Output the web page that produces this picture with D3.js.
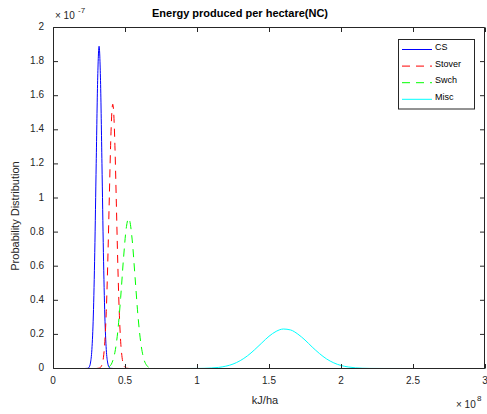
<!DOCTYPE html>
<html lang="en">
<head>
  <meta charset="UTF-8">
  <title>Energy produced per hectare(NC)</title>
  <script src="https://d3js.org/d3.v7.min.js"></script>
  <style>
    html, body { margin: 0; padding: 0; background: #fff; }
    svg { display: block; font-family: "Liberation Sans", Arial, sans-serif; }
  </style>
</head>
<body>
<div id="chart"></div>
<script>
  // Data (x in units of 1e8 kJ/ha, y in units of 1e-7)
  const seriesNames = ["CS", "Stover", "Swch", "Misc"];
  const xTicks = [0, 0.5, 1, 1.5, 2, 2.5, 3];
  const yTicks = [0, 0.2, 0.4, 0.6, 0.8, 1, 1.2, 1.4, 1.6, 1.8, 2];
  const yTickLabels = ["0", "0.2", "0.4", "0.6", "0.8", "1", "1.2", "1.4", "1.6", "1.8", "2"];

  const csX = [0.1, 0.22, 0.24, 0.25, 0.26, 0.27, 0.28, 0.29, 0.30, 0.31, 0.32, 0.33, 0.34, 0.35, 0.36, 0.37, 0.38, 0.39, 0.40, 0.42, 2.0];
  const csY = [0, 0, 0.001, 0.007, 0.032, 0.111, 0.308, 0.681, 1.201, 1.688, 1.89, 1.688, 1.201, 0.681, 0.308, 0.111, 0.032, 0.007, 0.001, 0, 0];

  const stoverX = [0.1, 0.3, 0.32, 0.33, 0.34, 0.35, 0.36, 0.37, 0.38, 0.39, 0.40, 0.41, 0.415, 0.42, 0.43, 0.44, 0.45, 0.46, 0.47, 0.48, 0.49, 0.50, 0.51, 0.53, 2.0];
  const stoverY = [0, 0, 0.002, 0.007, 0.022, 0.063, 0.157, 0.335, 0.613, 0.965, 1.307, 1.521, 1.55, 1.521, 1.307, 0.965, 0.613, 0.335, 0.157, 0.063, 0.022, 0.007, 0.002, 0, 0];

  const swchX = [0.1, 0.35, 0.37, 0.39, 0.41, 0.43, 0.45, 0.47, 0.49, 0.51, 0.525, 0.53, 0.55, 0.57, 0.59, 0.61, 0.63, 0.65, 0.67, 0.69, 0.71, 2.0];
  const swchY = [0, 0, 0.002, 0.010, 0.034, 0.095, 0.219, 0.417, 0.650, 0.832, 0.88, 0.875, 0.754, 0.534, 0.310, 0.148, 0.058, 0.019, 0.005, 0.001, 0, 0];

  const miscX = [0.1, 0.9, 1.0, 1.1, 1.15, 1.2, 1.25, 1.3, 1.35, 1.4, 1.45, 1.5, 1.55, 1.6, 1.65, 1.7, 1.75, 1.8, 1.85, 1.9, 1.95, 2.0, 2.05, 2.1, 2.2, 2.3, 2.5, 3.0];
  const miscY = [0, 0, 0.0004, 0.003, 0.0065, 0.0136, 0.026, 0.046, 0.074, 0.110, 0.150, 0.189, 0.218, 0.2316, 0.226, 0.202, 0.167, 0.126, 0.088, 0.056, 0.033, 0.0177, 0.009, 0.004, 0.0006, 0.0001, 0, 0];

  const seriesX = [csX, stoverX, swchX, miscX];
  const seriesY = [csY, stoverY, swchY, miscY];
  const colors = ["#0000ff", "#ff0000", "#00ff00", "#00ffff"];
  const dashes = [null, "8,6", "8,6", null];

  const width = 487, height = 414;
  const ink = "#262626";

  const svg = d3.select("#chart").append("svg")
    .attr("width", width)
    .attr("height", height);

  const x = d3.scaleLinear().domain([0, 3]).range([53, 485]);
  const y = d3.scaleLinear().domain([0, 2]).range([368.5, 27.5]);

  // curves
  const line = d3.line()
    .x(d => x(d[0]))
    .y(d => y(d[1]))
    .curve(d3.curveMonotoneX);

  seriesNames.forEach((name, i) => {
    const pts = seriesX[i].map((v, j) => [v, seriesY[i][j]]);
    svg.append("path")
      .datum(pts)
      .attr("fill", "none")
      .attr("stroke", colors[i])
      .attr("stroke-width", 1)
      .attr("stroke-dasharray", dashes[i])
      .attr("d", line);
  });

  // axes box
  const x0 = x.range()[0] + 0.5, x1 = x.range()[1] - 0.5;
  const yb = y.range()[0], yt = y.range()[1];
  svg.append("path")
    .attr("d", `M${x0},${yt}V${yb}H${x1}V${yt}Z`)
    .attr("fill", "none")
    .attr("stroke", ink)
    .attr("stroke-width", 1);

  const tickLen = 4.5;
  const ticks = svg.append("g").attr("stroke", ink).attr("stroke-width", 1);
  xTicks.forEach(t => {
    const px = Math.round(x(t)) + 0.5;
    ticks.append("line").attr("x1", px).attr("x2", px).attr("y1", yb).attr("y2", yb - tickLen);
    ticks.append("line").attr("x1", px).attr("x2", px).attr("y1", yt).attr("y2", yt + tickLen);
  });
  yTicks.forEach(t => {
    const py = y(t);
    ticks.append("line").attr("x1", x0).attr("x2", x0 + tickLen).attr("y1", py).attr("y2", py);
    ticks.append("line").attr("x1", x1).attr("x2", x1 - tickLen).attr("y1", py).attr("y2", py);
  });

  // tick labels
  svg.append("g").selectAll("text")
    .data(xTicks)
    .join("text")
    .attr("x", d => x(d))
    .attr("y", 384)
    .attr("text-anchor", "middle")
    .attr("font-size", 10)
    .attr("fill", ink)
    .text(d => d);

  svg.append("g").selectAll("text")
    .data(yTicks)
    .join("text")
    .attr("x", 44)
    .attr("y", d => y(d) + 2.5)
    .attr("text-anchor", "end")
    .attr("font-size", 10)
    .attr("fill", ink)
    .text((d, i) => yTickLabels[i]);

  // exponent labels
  const ey = svg.append("text").attr("fill", ink).attr("font-size", 10).attr("x", 55).attr("y", 19);
  ey.append("tspan").text("\u00d7 10");
  svg.append("text").attr("fill", ink).attr("font-size", 8).attr("x", 78).attr("y", 13).text("-7");

  const ex = svg.append("text").attr("fill", ink).attr("font-size", 10).attr("x", 456).attr("y", 408);
  ex.append("tspan").text("\u00d7 10");
  svg.append("text").attr("fill", ink).attr("font-size", 8).attr("x", 477).attr("y", 401).text("8");

  // title and axis labels
  svg.append("text")
    .attr("x", 240)
    .attr("y", 16.5)
    .attr("text-anchor", "middle")
    .attr("font-size", 11)
    .attr("font-weight", "bold")
    .attr("fill", "#000")
    .text("Energy produced per hectare(NC)");

  svg.append("text")
    .attr("x", 265)
    .attr("y", 404)
    .attr("text-anchor", "middle")
    .attr("font-size", 11)
    .attr("fill", ink)
    .text("kJ/ha");

  svg.append("text")
    .attr("transform", "translate(18.5,216) rotate(-90)")
    .attr("text-anchor", "middle")
    .attr("font-size", 11)
    .attr("fill", ink)
    .text("Probability Distribution");

  // legend
  const legend = svg.append("g");
  legend.append("rect")
    .attr("x", 398.5).attr("y", 39.5)
    .attr("width", 76).attr("height", 69.5)
    .attr("fill", "#fff")
    .attr("stroke", ink)
    .attr("stroke-width", 1);

  seriesNames.forEach((name, i) => {
    const ly = 49.5 + i * 16.6;
    legend.append("line")
      .attr("x1", 402).attr("x2", 432)
      .attr("y1", ly).attr("y2", ly)
      .attr("stroke", colors[i])
      .attr("stroke-width", 1)
      .attr("stroke-dasharray", dashes[i]);
    legend.append("text")
      .attr("x", 435)
      .attr("y", ly + 0.5)
      .attr("font-size", 9)
      .attr("fill", "#000")
      .text(name);
  });
</script>
</body>
</html>
